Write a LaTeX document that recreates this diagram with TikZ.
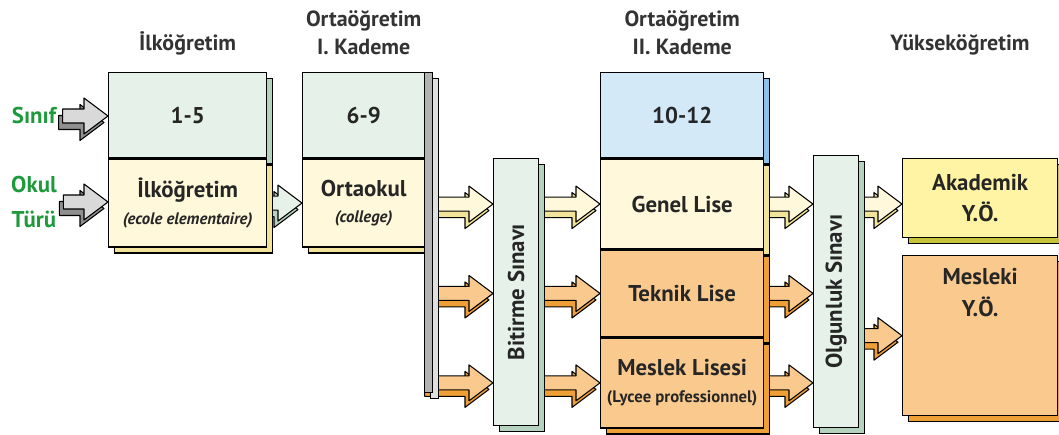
\documentclass[tikz,border=0pt]{standalone}
\usepackage{fontspec}
\setmainfont{PT Sans}
\usepackage{graphicx}
\usetikzlibrary{calc,positioning,backgrounds}

\definecolor{mint}{HTML}{E6F1E9}
\definecolor{mintside}{HTML}{B5D2BF}
\definecolor{cream}{HTML}{FFF8DA}
\definecolor{creamside}{HTML}{F2E39A}
\definecolor{sky}{HTML}{D3E9F8}
\definecolor{skyside}{HTML}{8DC1E9}
\definecolor{peach}{HTML}{FAC98D}
\definecolor{peachside}{HTML}{EE9F35}
\definecolor{lemon}{HTML}{FFF4A3}
\definecolor{lemonside}{HTML}{C5C43A}
\definecolor{silver}{HTML}{D9D9D9}
\definecolor{steel}{HTML}{8F8F8F}
\definecolor{leafgreen}{HTML}{1E9A3C}

\newcommand\boxfont{\fontsize{13}{18}\selectfont\bfseries}
\newcommand\titlefont{\fontsize{12.5}{16}\selectfont\bfseries}
\newcommand\notefont{\fontsize{9.5}{12}\selectfont\bfseries}

\tikzset{
every picture/.style={line width=0.8pt},
panel/.style={draw, anchor=north west, inner sep=0pt, align=center, text=black!85, font=\boxfont},
slab/.style={preaction={draw, fill=#1, transform canvas={shift={(0.12cm,-0.12cm)}}}},
title/.style={font=\titlefont, align=center, anchor=south, inner sep=0pt, text=black!80},
side/.style={font=\boxfont, text=leafgreen, align=center},
arr/.style={draw, line width=0.6pt, line join=round}
}

% block arrow: from, to, face, side
\newcommand\arrowpath[2]{let \p1=#1, \p2=#2 in
  (\x1,\y1+0.14cm) -- (\x2-0.48cm,\y1+0.14cm) -- (\x2-0.48cm,\y1+0.36cm) -- (\x2,\y1)
  -- (\x2-0.48cm,\y1-0.36cm) -- (\x2-0.48cm,\y1-0.14cm) -- (\x1,\y1-0.14cm) -- cycle}
\newcommand\blockarr[4]{%
  \draw[arr, fill=#4, transform canvas={shift={(-0.08cm,-0.13cm)}}] \arrowpath{#1}{#2};
  \draw[arr, fill=#3] \arrowpath{#1}{#2};}

\begin{document}
\begin{tikzpicture}[x=0.02cm, y=-0.02cm]
  \useasboundingbox (0,0) rectangle (1059,435);

  % Ilkogretim
  \node[panel, fill=mint, slab=mintside, minimum width=3.16cm, minimum height=1.7cm] (grades1) at (108,72) {1-5};
  \node[panel, fill=cream, slab=creamside, minimum width=3.16cm, minimum height=1.76cm, below=0pt of grades1] (school1)
    {İlköğretim\\[-3pt]{\notefont\itshape (ecole elementaire)}};

  % Ortaogretim I
  \node[panel, fill=mint, slab=mintside, minimum width=2.44cm, minimum height=1.7cm] (grades2) at (302,72) {6-9};
  \node[panel, fill=cream, slab=creamside, minimum width=2.44cm, minimum height=1.76cm, below=0pt of grades2] (school2)
    {Ortaokul\\[-3pt]{\notefont\itshape (college)}};
  \node[draw, fill=gray!60, slab=gray!25, anchor=north west, inner sep=0pt, minimum width=0.16cm, minimum height=6.4cm] (bar) at (424,72) {};

  \node[panel, fill=mint, slab=mintside, minimum width=0.9cm, minimum height=5.34cm] (bitirme) at (493,158)
    {\rotatebox{90}{Bitirme Sınavı}};

  % Ortaogretim II
  \node[panel, fill=sky, slab=skyside, minimum width=3.26cm, minimum height=1.7cm] (tenth) at (600,72) {10-12};
  \node[panel, fill=cream, slab=creamside, minimum width=3.26cm, minimum height=1.8cm, below=0pt of tenth] (genel) {Genel Lise};
  \node[panel, fill=peach, slab=peachside, minimum width=3.26cm, minimum height=1.72cm, below=0pt of genel] (teknik) {Teknik Lise};
  \node[panel, fill=peach, slab=peachside, minimum width=3.26cm, minimum height=1.8cm, below=0pt of teknik] (meslek)
    {Meslek Lisesi\\[-3pt]{\notefont (Lycee professionnel)}};

  \node[panel, fill=mint, slab=mintside, minimum width=0.9cm, minimum height=5.44cm] (olgunluk) at (813,155)
    {\rotatebox{90}{Olgunluk Sınavı}};

  % Yuksekogretim
  \node[panel, fill=lemon, slab=lemonside, minimum width=3.1cm, minimum height=1.58cm] (akademik) at (902,158) {Akademik\\Y.Ö.};
  \node[panel, fill=peach, slab=peachside, minimum width=3.1cm, minimum height=3.2cm,
    label={[font=\boxfont, text=black!85, align=center, anchor=north, inner sep=0pt, yshift=-0.26cm]north:Mesleki\\Y.Ö.}] (mesleki) at (902,255) {};

  \node[title, above=0.32cm of grades1] (head1) {İlköğretim};
  \node[title, above=0.32cm of grades2] (head2) {Ortaöğretim\\I. Kademe};
  \node[title, above=0.32cm of tenth] (head3) {Ortaöğretim\\II. Kademe};
  \node[title] (head4) at (960,56) {Yükseköğretim};

  \node[side] (sinif) at (34,116) {Sınıf};
  \node[side] (okul) at (34,202) {Okul\\[2pt]Türü};

  \begin{pgfonlayer}{background}
    \blockarr{(sinif.east)}{(grades1.west)}{silver}{steel}
    \blockarr{(okul.east)}{(school1.west)}{silver}{steel}
    \blockarr{(school1.east)}{(school2.west)}{mint}{mintside}
    \blockarr{(bar.center |- genel.west)}{(bitirme.west)}{cream}{creamside}
    \blockarr{(bar.center |- teknik.west)}{(bitirme.west)}{peach}{peachside}
    \blockarr{(bar.center |- meslek.west)}{(bitirme.west)}{peach}{peachside}
    \blockarr{(bitirme.center |- genel.west)}{(genel.west)}{cream}{creamside}
    \blockarr{(bitirme.center |- teknik.west)}{(teknik.west)}{peach}{peachside}
    \blockarr{(bitirme.center |- meslek.west)}{(meslek.west)}{peach}{peachside}
    \blockarr{(genel.east)}{(olgunluk.west)}{cream}{creamside}
    \blockarr{(teknik.east)}{(olgunluk.west)}{peach}{peachside}
    \blockarr{(meslek.east)}{(olgunluk.west)}{peach}{peachside}
    \blockarr{(olgunluk.center |- genel.west)}{(akademik.west)}{cream}{creamside}
    \blockarr{(olgunluk.center |- mesleki.west)}{(mesleki.west)}{peach}{peachside}
  \end{pgfonlayer}
\end{tikzpicture}
\end{document}
